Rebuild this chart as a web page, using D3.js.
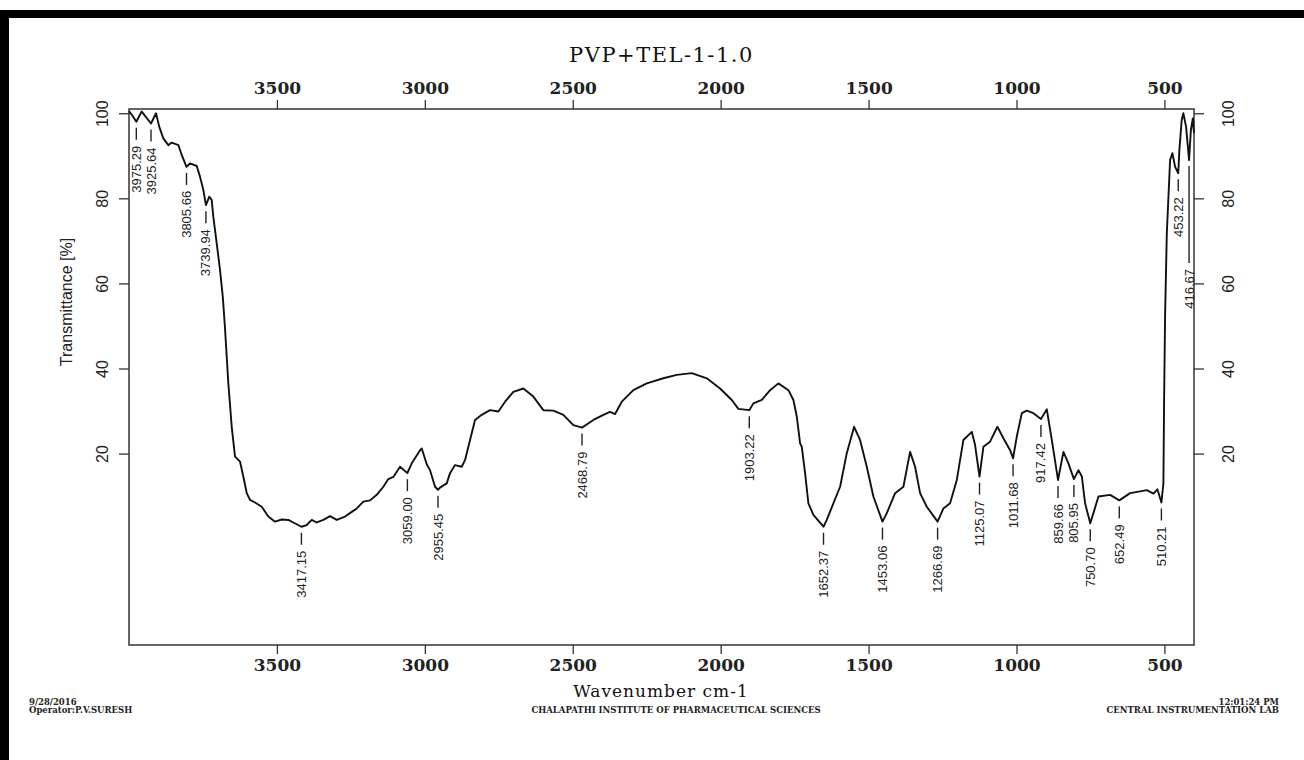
<!DOCTYPE html>
<html><head><meta charset="utf-8">
<script src="https://cdn.jsdelivr.net/npm/d3@7/dist/d3.min.js"></script>
<style>
html,body{margin:0;padding:0;background:#fff;}
svg{display:block;}
</style></head>
<body>
<svg id="chart" width="1304" height="760"></svg>
<script>
// ---- DATA ----
const title = "PVP+TEL-1-1.0";
const xTicks = [3500, 3000, 2500, 2000, 1500, 1000, 500];
const yTicks = [20, 40, 60, 80, 100];
const wavenumber = [4000,3990,3975.29,3957,3925.64,3908.7,3897.6,3884,3867,3855.6,3833,3821.8,3805.66,3793.8,3771,3760,3748.8,3739.94,3728.5,3720.4,3715,3703.5,3692.4,3683,3675.5,3664.3,3652.8,3641.6,3624.7,3613.6,3602,3591,3574,3551.4,3529,3506.4,3483.8,3461.4,3444.5,3417.15,3399.3,3382.3,3365.4,3343.1,3320.5,3297.8,3269.8,3247,3230,3207.9,3185.3,3162.6,3140.3,3123.4,3106.5,3083.8,3059.00,3044.3,3016,3010.5,2993.6,2982.4,2965.5,2955.45,2948.6,2926,2914.8,2897.9,2875.2,2864,2847.2,2830.3,2807.6,2779.6,2751.5,2728.8,2700.8,2667,2633.2,2599.4,2565.6,2531.8,2498,2468.79,2430.3,2396.5,2373.9,2357,2334.3,2295,2249.8,2193.7,2148.4,2097.7,2046.9,2002,1962.4,1940.1,1903.22,1889.4,1861,1832.9,1804.9,1771,1754.1,1742.7,1731.5,1725.8,1714.6,1703.5,1686.6,1652.37,1641.3,1619,1596.3,1573.7,1549,1528.8,1506.1,1483.8,1453.06,1438.4,1410.3,1382.3,1359.7,1342.8,1325.9,1303.2,1266.69,1247.1,1224.5,1201.8,1179.5,1151.1,1140,1125.07,1111.9,1089.3,1064.6,1044.3,1021.6,1011.68,999,982,965.1,942.9,917.42,897.6,880.7,859.66,841.4,824.5,805.95,790.6,779,768.1,750.70,740,723,683.6,652.49,615.9,582,559.5,537,523.7,510.21,503.4,501,497.6,491.9,480.8,473,463.8,453.22,449.4,441.6,436,426.7,416.67,410.6,404,400];
const transmittance = [100.5,99.6,98.0,100.4,97.6,100.0,96.8,94.1,92.5,93.1,92.5,90.2,87.4,88.2,87.6,85.1,82.0,78.4,80.4,79.6,75.7,69.4,63.2,56.9,49.5,36.6,26.3,19.3,18.1,14.6,10.7,9.1,8.5,7.5,5.2,4.0,4.5,4.4,3.8,2.8,3.2,4.4,3.8,4.4,5.3,4.4,5.2,6.3,7.1,8.7,9.0,10.3,12.2,14.0,14.5,16.9,15.4,17.7,20.8,21.2,17.5,16.1,12.2,11.5,12.0,13.0,15.4,17.3,16.9,18.5,23.2,27.9,29.1,30.2,29.9,32.2,34.5,35.3,33.4,30.2,30.1,29.1,26.7,26.1,27.9,29.1,29.8,29.3,32.2,34.9,36.5,37.7,38.5,38.9,37.7,35.3,32.6,30.5,30.2,31.8,32.6,34.9,36.5,34.9,32.6,28.7,22.4,21.6,15.4,8.3,5.6,2.8,4.4,8.3,12.2,20.1,26.3,23.2,16.9,9.9,4.0,6.0,10.7,12.2,20.4,16.9,10.7,7.5,4.0,7.1,8.3,13.8,23.2,25.1,22.0,14.6,21.6,22.8,26.3,23.6,20.8,18.9,24.0,29.5,30.1,29.5,28.1,30.4,23.2,13.8,20.4,17.7,14.0,16.1,14.6,8.3,3.6,6.0,9.9,10.3,9.0,10.7,11.1,11.4,10.6,11.6,8.5,13.0,33.0,53.0,71.8,89.0,90.6,87.4,85.9,91.4,98.4,100.0,96.8,89.0,96.0,98.8,95.4];
const peakWavenumbers = [3975.29,3925.64,3805.66,3739.94,3417.15,3059.00,2955.45,2468.79,1903.22,1652.37,1453.06,1266.69,1125.07,1011.68,917.42,859.66,805.95,750.70,652.49,510.21,453.22,416.67];
const peakLabels = ["3975.29","3925.64","3805.66","3739.94","3417.15","3059.00","2955.45","2468.79","1903.22","1652.37","1453.06","1266.69","1125.07","1011.68","917.42","859.66","805.95","750.70","652.49","510.21","453.22","416.67"];
const xTitle = "Wavenumber cm-1";
const yTitle = "Transmittance [%]";
const footerLeft = ["9/28/2016", "Operator:P.V.SURESH"];
const footerCenter = "CHALAPATHI INSTITUTE OF PHARMACEUTICAL SCIENCES";
const footerRight = ["12:01:24 PM", "CENTRAL INSTRUMENTATION LAB"];

// ---- LAYOUT ----
const L = 129, R = 1194, T = 109, B = 645;
const svg = d3.select("#chart");
const x = d3.scaleLinear().domain([4000, 400]).range([L, R]);
const y = d3.scaleLinear().domain([-25, 101]).range([B, T]);

// page border (black bars top & left)
svg.append("rect").attr("x",0).attr("y",10).attr("width",1304).attr("height",8).attr("fill","#000");
svg.append("rect").attr("x",0).attr("y",10).attr("width",9).attr("height",750).attr("fill","#000");

// frame
svg.append("rect").attr("x",L).attr("y",T).attr("width",R-L).attr("height",B-T)
  .attr("fill","none").attr("stroke","#333").attr("stroke-width",1.5);

const serif = "'DejaVu Serif', 'Liberation Serif', serif";
const sans = "'Liberation Sans', Arial, sans-serif";
const narrow = "'Liberation Sans Narrow', 'Arial Narrow', 'Liberation Sans', sans-serif";

function styleAxis(g, font, size) {
  g.select(".domain").remove();
  g.selectAll(".tick line").attr("stroke","#333").attr("stroke-width",1.3);
  g.selectAll(".tick text").attr("font-family", font).attr("font-size", size).attr("fill","#222");
}
// top & bottom axes
const gTop = svg.append("g").attr("transform",`translate(0,${T})`)
  .call(d3.axisTop(x).tickValues(xTicks).tickSize(9).tickPadding(6).tickFormat(d3.format("d")));
styleAxis(gTop, serif, 17); gTop.selectAll(".tick text").attr("font-weight","bold");
const gBot = svg.append("g").attr("transform",`translate(0,${B})`)
  .call(d3.axisBottom(x).tickValues(xTicks).tickSize(9).tickPadding(5).tickFormat(d3.format("d")));
styleAxis(gBot, serif, 17); gBot.selectAll(".tick text").attr("font-weight","bold");

// left & right axes (rotated labels)
const gLeft = svg.append("g").attr("transform",`translate(${L},0)`)
  .call(d3.axisLeft(y).tickValues(yTicks).tickSize(10).tickFormat(d3.format("d")));
styleAxis(gLeft, sans, 16);
gLeft.selectAll(".tick text").attr("x",null).attr("dy",null)
  .attr("text-anchor","middle").attr("transform","translate(-27,0) rotate(-90)").attr("dy","0.35em");
const gRight = svg.append("g").attr("transform",`translate(${R},0)`)
  .call(d3.axisRight(y).tickValues(yTicks).tickSize(10).tickFormat(d3.format("d")));
styleAxis(gRight, sans, 16);
gRight.selectAll(".tick text").attr("x",null).attr("dy",null)
  .attr("text-anchor","middle").attr("transform","translate(34,0) rotate(-90)").attr("dy","0.35em");

// spectrum
const pts = wavenumber.map((w,i)=>[w, transmittance[i]]);
svg.append("path").datum(pts)
  .attr("fill","none").attr("stroke","#111").attr("stroke-width",1.9).attr("stroke-linejoin","round")
  .attr("d", d3.line().x(d=>x(d[0])).y(d=>y(d[1])));

// peak labels
const asc = pts.slice().sort((a,b)=>a[0]-b[0]);
const bis = d3.bisector(d=>d[0]).left;
function valueAt(w){
  const i = bis(asc, w);
  if (i<=0) return asc[0][1];
  if (i>=asc.length) return asc[asc.length-1][1];
  const a = asc[i-1], b = asc[i];
  return a[1] + (b[1]-a[1])*(w-a[0])/(b[0]-a[0]);
}
const extraTick = {"416.67": 85};
const gp = svg.append("g");
peakWavenumbers.forEach((w,i)=>{
  const px = x(w), py = y(valueAt(w));
  const lab = peakLabels[i];
  const ext = extraTick[lab] || 0;
  const y0 = py + 6, y1 = py + 18 + ext;
  gp.append("line").attr("x1",px).attr("x2",px).attr("y1",y0).attr("y2",y1)
    .attr("stroke","#222").attr("stroke-width",1.4);
  gp.append("text").attr("transform",`translate(${px},${y1+6}) rotate(-90)`)
    .attr("text-anchor","end").attr("dy","0.35em")
    .attr("font-family",narrow).attr("font-size",13).attr("fill","#222").text(lab);
});

// titles
svg.append("text").attr("x",(L+R)/2).attr("y",62).attr("text-anchor","middle")
  .attr("font-family",serif).attr("font-size",21).attr("letter-spacing",1.5).attr("fill","#111").text(title);
svg.append("text").attr("x",661).attr("y",697).attr("text-anchor","middle")
  .attr("font-family",serif).attr("font-size",17).attr("letter-spacing",1).attr("fill","#111").text(xTitle);
svg.append("text").attr("transform",`translate(72,302) rotate(-90)`).attr("text-anchor","middle")
  .attr("font-family",sans).attr("font-size",16).attr("fill","#222").text(yTitle);

// footer
const fs = 8.5;
footerLeft.forEach((t,i)=>svg.append("text").attr("x",29).attr("y",705+i*8).attr("font-family",serif)
  .attr("font-weight","bold").attr("font-size",fs).attr("fill","#222").text(t));
svg.append("text").attr("x",676).attr("y",713).attr("text-anchor","middle").attr("font-family",serif)
  .attr("font-weight","bold").attr("font-size",fs).attr("fill","#222").text(footerCenter);
footerRight.forEach((t,i)=>svg.append("text").attr("x",1279).attr("y",705+i*8).attr("text-anchor","end").attr("font-family",serif)
  .attr("font-weight","bold").attr("font-size",fs).attr("fill","#222").text(t));
</script>
</body></html>
